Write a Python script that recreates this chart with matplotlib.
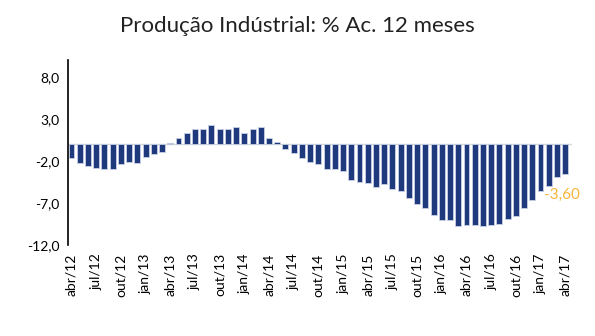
import matplotlib
matplotlib.use("Agg")
import matplotlib.pyplot as plt
import numpy as np

months = ["jan", "fev", "mar", "abr", "mai", "jun", "jul", "ago", "set", "out", "nov", "dez"]
# monthly categories from abr/12 to abr/17
categories = []
for y in range(12, 18):
    for m in months:
        categories.append(f"{m}/{y}")
categories = categories[3:3 + 61]

values = [-1.67, -2.3, -2.6, -2.8, -2.95, -2.95, -2.4, -2.1, -2.3, -1.5, -1.2, -0.9,
          0.15, 0.75, 1.35, 1.85, 1.85, 2.3, 1.85, 1.85, 2.0, 1.35, 1.85, 2.0,
          0.75, 0.3, -0.55, -1.0, -1.7, -2.1, -2.4, -3.0, -3.0, -3.2, -4.3, -4.5,
          -4.65, -5.1, -4.8, -5.3, -5.6, -6.4, -7.1, -7.6, -8.4, -9.0, -9.0, -9.8,
          -9.6, -9.6, -9.8, -9.6, -9.46, -8.9, -8.6, -7.6, -6.6, -5.6, -5.0, -3.96, -3.6]

yticks = [-12, -7, -2, 3, 8]
title = "Produção Indústrial: % Ac. 12 meses"
last_label = "-3,60"

plt.rcParams['font.family'] = ['Lato', 'DejaVu Sans']

fig = plt.figure(figsize=(5.95, 3.36), dpi=100)
ax = fig.add_axes([0.114, 0.271, 0.847, 0.550])

x = np.arange(len(values))
ax.bar(x, values, width=0.72, color="#1F3A7C", edgecolor="#C9D0E6", linewidth=0.6, zorder=3)
ax.axhline(0, color="#D9D9D9", linewidth=1.0, zorder=2)

ax.set_xlim(-0.45, 60.8)
ax.set_ylim(-12, 10)
ax.set_yticks(yticks)
ax.set_yticklabels([f"{v:.1f}".replace(".", ",") for v in yticks], fontsize=10)

tick_idx = list(range(0, len(categories), 3))
ax.set_xticks(tick_idx)
ax.set_xticklabels([categories[i] for i in tick_idx], rotation=90, fontsize=10)

ax.tick_params(axis="both", length=0, pad=6)
for s in ["top", "right", "bottom"]:
    ax.spines[s].set_visible(False)
ax.spines["left"].set_color("#000000")
ax.spines["left"].set_linewidth(1.2)

ax.annotate(last_label, (x[-1], values[-1]), xytext=(-2, -10), textcoords="offset points",
            ha="center", va="top", color="#F6B53A", fontsize=11)

fig.text(0.5, 0.922, title, ha="center", va="center", fontsize=16, color="#222222")

fig.savefig("out.png", dpi=100)
